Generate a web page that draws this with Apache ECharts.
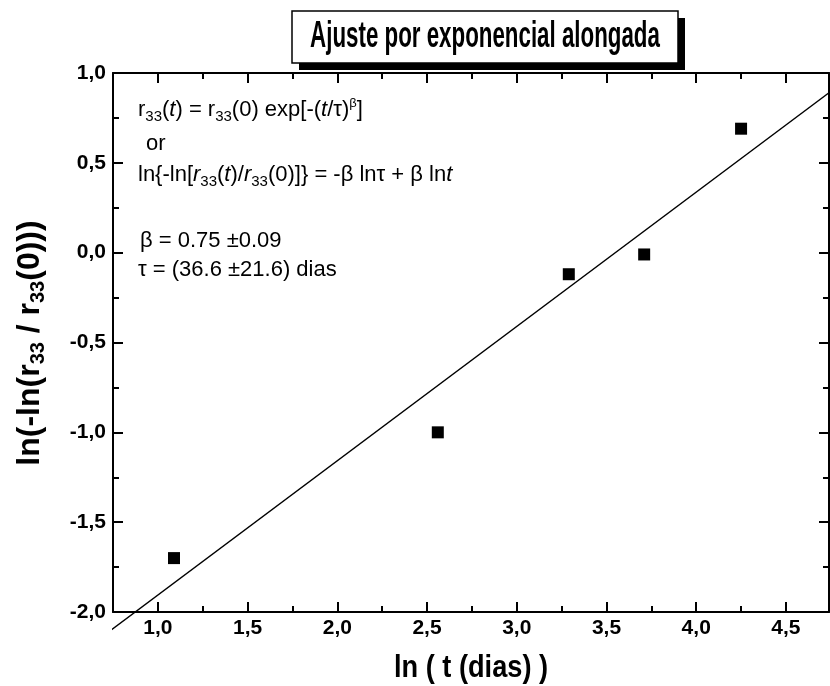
<!DOCTYPE html>
<html><head><meta charset="utf-8">
<script src="https://cdn.jsdelivr.net/npm/echarts@6/dist/echarts.min.js"></script>
<style>html,body{margin:0;padding:0;background:#fff}#c{width:830px;height:686px}</style>
</head><body><div id="c"></div>
<script>
const pointsX = [1.09, 2.56, 3.29, 3.71, 4.25];
const pointsY = [-1.70, -1.00, -0.12, -0.01, 0.69];
const fitX = [0.74, 4.74];
const fitY = [-2.10, 0.89];
const xMajorTicks = [1.0, 1.5, 2.0, 2.5, 3.0, 3.5, 4.0, 4.5];
const xMinorTicks = [1.25, 1.75, 2.25, 2.75, 3.25, 3.75, 4.25];
const titleText = 'Ajuste por exponencial alongada';
const xName = 'ln ( t (dias) )';

const F = "'Liberation Sans', Arial, sans-serif";
const fmt = v => v.toFixed(1).replace('.', ',');
const XMIN = 0.75, XMAX = 4.74, YMIN = -2.0, YMAX = 1.0;

function xAx(pos, ticks, len, showLine, showLabel) {
  return {
    type: 'value', min: XMIN, max: XMAX, position: pos, gridIndex: 0,
    axisLine: {show: showLine, onZero: false, lineStyle: {color: '#000', width: 2}},
    axisTick: {show: true, inside: true, length: len, customValues: ticks, lineStyle: {color: '#000', width: 2}},
    axisLabel: {show: showLabel, customValues: ticks, formatter: fmt, color: '#000', fontSize: 21, fontWeight: 'bold', margin: 6, fontFamily: F},
    splitLine: {show: false}
  };
}
function yAx(pos, showLabel) {
  return {
    type: 'value', min: YMIN, max: YMAX, interval: 0.5, position: pos, gridIndex: 0,
    axisLine: {show: true, onZero: false, lineStyle: {color: '#000', width: 2}},
    axisTick: {show: true, inside: true, length: 10, lineStyle: {color: '#000', width: 2}},
    minorTick: {show: true, splitNumber: 2, length: 6, lineStyle: {color: '#000', width: 2}},
    axisLabel: {show: showLabel, formatter: fmt, color: '#000', fontSize: 21, fontWeight: 'bold', margin: 7, fontFamily: F},
    splitLine: {show: false}
  };
}

const baseRich = {
  s: {fontSize: 15, fontFamily: F, padding: [14, 0, 0, 0], color: '#000'},
  p: {fontSize: 13, fontFamily: F, padding: [0, 0, 13, 0], color: '#000'},
  i: {fontSize: 22, fontFamily: F, fontStyle: 'italic', color: '#000'}
};
function annot(x, y, text) {
  return {
    type: 'text', x: x, y: y,
    style: {text: text, fontSize: 22, fontFamily: F, fill: '#000', align: 'left', verticalAlign: 'middle', rich: baseRich}
  };
}

const chart = echarts.init(document.getElementById('c'), null, {renderer: 'canvas'});
chart.setOption({
  animation: false,
  backgroundColor: '#fff',
  grid: {left: 113, top: 73, width: 716, height: 539},
  xAxis: [
    xAx('bottom', xMajorTicks, 10, true, true),
    xAx('bottom', xMinorTicks, 6, false, false),
    xAx('top', xMajorTicks, 10, true, false),
    xAx('top', xMinorTicks, 6, false, false)
  ],
  yAxis: [yAx('left', true), yAx('right', false)],
  series: [
    {
      type: 'line', xAxisIndex: 0, yAxisIndex: 0, clip: false,
      data: fitX.map((x, i) => [x, fitY[i]]),
      symbol: 'none', lineStyle: {color: '#000', width: 1.5}, z: 2
    },
    {
      type: 'scatter', xAxisIndex: 0, yAxisIndex: 0,
      data: pointsX.map((x, i) => [x, pointsY[i]]),
      symbol: 'rect', symbolSize: 12, itemStyle: {color: '#000', opacity: 1}, z: 3
    }
  ],
  graphic: [
    {type: 'rect', shape: {x: 299, y: 18, width: 386, height: 52}, style: {fill: '#000'}},
    {type: 'rect', shape: {x: 292, y: 11, width: 386, height: 52}, style: {fill: '#fff', stroke: '#000', lineWidth: 1.5}},
    {type: 'text', x: 485, y: 37, scaleX: 0.62,
      style: {text: titleText, fontSize: 36, fontWeight: 'bold', fontFamily: F, fill: '#000', align: 'center', verticalAlign: 'middle'}},
    annot(138, 110, 'r{s|33}({i|t}) = r{s|33}(0) exp[-({i|t}/τ){p|β}]'),
    annot(140, 144, ' or'),
    annot(138, 175, 'ln{-ln[{i|r}{s|33}({i|t})/{i|r}{s|33}(0)]} = -β lnτ + β ln{i|t}'),
    annot(140, 241, 'β = 0.75 ±0.09'),
    annot(138, 270, 'τ = (36.6 ±21.6) dias'),
    {type: 'text', x: 30, y: 343, rotation: Math.PI / 2,
      style: {text: 'ln(-ln(r{s|33} / r{s|33}(0)))', fontSize: 32, fontWeight: 'bold', fontFamily: F, fill: '#000',
        align: 'center', verticalAlign: 'middle',
        rich: {s: {fontSize: 20, fontWeight: 'bold', fontFamily: F, padding: [16, 0, 0, 0]}}}},
    {type: 'text', x: 471, y: 668, scaleX: 0.85,
      style: {text: xName, fontSize: 32, fontWeight: 'bold', fontFamily: F, fill: '#000', align: 'center', verticalAlign: 'middle'}}
  ]
});
</script></body></html>
